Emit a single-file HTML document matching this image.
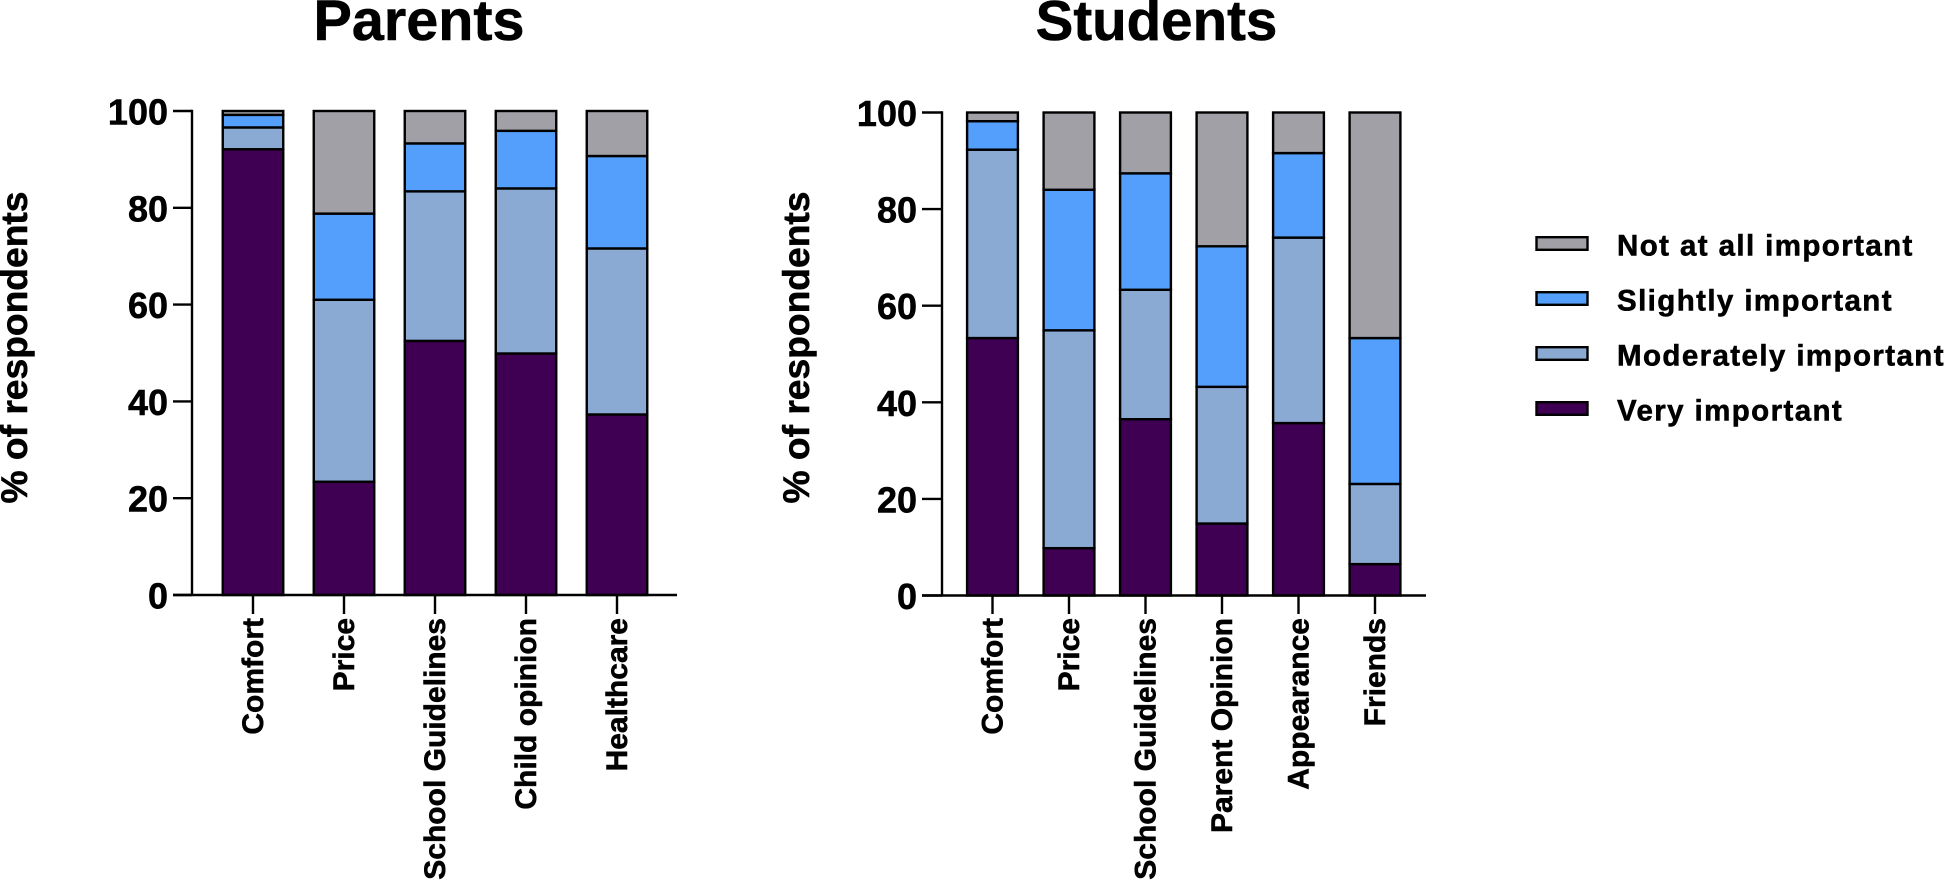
<!DOCTYPE html>
<html lang="en">
<head>
<meta charset="utf-8">
<title>Parents and Students stacked bars</title>
<style>
html,body{margin:0;padding:0;background:#fff;width:1946px;height:881px;overflow:hidden}
svg{display:block;font-family:"Liberation Sans",Arial,sans-serif;font-weight:700;fill:#000}
svg text{stroke:#000;stroke-width:.55px}
</style>
</head>
<body>
<svg id="chart" xmlns="http://www.w3.org/2000/svg" width="1946" height="881" viewBox="0 0 1946 881"></svg>
<script>
var parentCategories = ["Comfort", "Price", "School Guidelines", "Child opinion", "Healthcare"];
var parentVery = [92.1, 23.4, 52.5, 49.9, 37.3];
var parentModerate = [4.5, 37.6, 30.9, 34.1, 34.3];
var parentSlight = [2.6, 17.8, 9.9, 11.9, 19.1];
var parentNot = [0.8, 21.2, 6.7, 4.1, 9.3];

var studentCategories = ["Comfort", "Price", "School Guidelines", "Parent Opinion", "Appearance", "Friends"];
var studentVery = [53.3, 9.8, 36.5, 14.9, 35.7, 6.5];
var studentModerate = [39.0, 45.1, 26.8, 28.3, 38.4, 16.6];
var studentSlight = [5.9, 29.1, 24.1, 29.1, 17.5, 30.2];
var studentNot = [1.8, 16.0, 12.6, 27.7, 8.4, 46.7];

var yTicks = [0, 20, 40, 60, 80, 100];
var legendLabels = ["Not at all important", "Slightly important", "Moderately important", "Very important"];

var NS = "http://www.w3.org/2000/svg";
var svg = document.getElementById("chart");
var INK = "#000";
var COLORS = { very: "#3f0053", moderate: "#8aaad3", slight: "#559ffc", not: "#a1a0a6" };

function make(tag, attrs, parent, text) {
  var el = document.createElementNS(NS, tag);
  for (var k in attrs) el.setAttribute(k, attrs[k]);
  if (text !== undefined) el.textContent = text;
  (parent || svg).appendChild(el);
  return el;
}

function drawPanel(cfg) {
  var g = make("g", {});
  
  

  function yScale(v) { return cfg.y0 + (cfg.y100 - cfg.y0) * v / 100; }
  function xScale(i) { return cfg.firstCenter + cfg.step * i; }

  var title = make("text", { x: cfg.titleX, y: 40, "font-size": cfg.titleSize, "text-anchor": "middle" }, g, cfg.title);
  
  

  var yTitleX = cfg.yTitleX;
  var yTitle = make("text", { x: 0, y: 0, "font-size": 37.2, "text-anchor": "middle", transform: "translate(" + yTitleX + " 347.5) rotate(-90)" }, g, "% of respondents");
  
  

  cfg.categories.forEach(function (cat, i) {
    var base = 0;
    cfg.series.forEach(function (s) {
      var v = s.values[i];
      var top = yScale(base + v);
      var bottom = yScale(base);
      var rect = make("rect", {
        x: xScale(i) - cfg.barWidth / 2, y: top,
        width: cfg.barWidth, height: bottom - top,
        fill: s.color, stroke: INK, "stroke-width": 2.4
      }, g);
      
      
      base += v;
    });
  });

  var yAxis = make("line", { x1: cfg.axisX, x2: cfg.axisX, y1: yScale(100) - 1.2, y2: cfg.y0, stroke: INK, "stroke-width": 2.4 }, g);
  
  

  var xAxis = make("line", { x1: cfg.axisStart, x2: cfg.axisEnd, y1: cfg.y0, y2: cfg.y0, stroke: INK, "stroke-width": 2.4 }, g);
  
  

  yTicks.forEach(function (t) {
    var y = yScale(t);
    var tick = make("line", { x1: cfg.axisStart, x2: cfg.axisX, y1: y, y2: y, stroke: INK, "stroke-width": 2.4 }, g);
    
    
    var label = make("text", { x: cfg.labelEnd, y: y + 13.5, "font-size": 36, "text-anchor": "end" }, g, String(t));
    
    
  });

  cfg.categories.forEach(function (cat, i) {
    var x = xScale(i);
    var tick = make("line", { x1: x, x2: x, y1: cfg.y0, y2: 614, stroke: INK, "stroke-width": 2.4 }, g);
    
    
    var label = make("text", { x: 0, y: 0, "font-size": 30, "text-anchor": "end", transform: "translate(" + (x + 10) + " 618) rotate(-90)" }, g, cat);
    
    
  });
}

drawPanel({
  key: "parents", title: "Parents", titleX: 419, titleSize: 57.5, yTitleX: 27,
  categories: parentCategories,
  series: [
    { name: "very", color: COLORS.very, values: parentVery },
    { name: "moderate", color: COLORS.moderate, values: parentModerate },
    { name: "slight", color: COLORS.slight, values: parentSlight },
    { name: "not", color: COLORS.not, values: parentNot }
  ],
  y0: 595, y100: 111, axisX: 192, axisStart: 173, axisEnd: 677, labelEnd: 168,
  firstCenter: 253, step: 91, barWidth: 60.5
});

drawPanel({
  key: "students", title: "Students", titleX: 1156.5, titleSize: 56.5, yTitleX: 809,
  categories: studentCategories,
  series: [
    { name: "very", color: COLORS.very, values: studentVery },
    { name: "moderate", color: COLORS.moderate, values: studentModerate },
    { name: "slight", color: COLORS.slight, values: studentSlight },
    { name: "not", color: COLORS.not, values: studentNot }
  ],
  y0: 595.5, y100: 112.5, axisX: 942, axisStart: 922, axisEnd: 1426, labelEnd: 917,
  firstCenter: 992.5, step: 76.5, barWidth: 50.8
});

var legend = make("g", {});


var legendColors = [COLORS.not, COLORS.slight, COLORS.moderate, COLORS.very];
legendLabels.forEach(function (name, i) {
  var rowY = 243.5 + i * 55;
  var swatch = make("rect", { x: 1536.5, y: rowY - 6.3, width: 51, height: 12.6, fill: legendColors[i], stroke: INK, "stroke-width": 2.4 }, legend);
  
  
  var label = make("text", { x: 1617, y: rowY + 12, "font-size": 29.5, "letter-spacing": 1.4 }, legend, name);
  
  
});
</script>
</body>
</html>
